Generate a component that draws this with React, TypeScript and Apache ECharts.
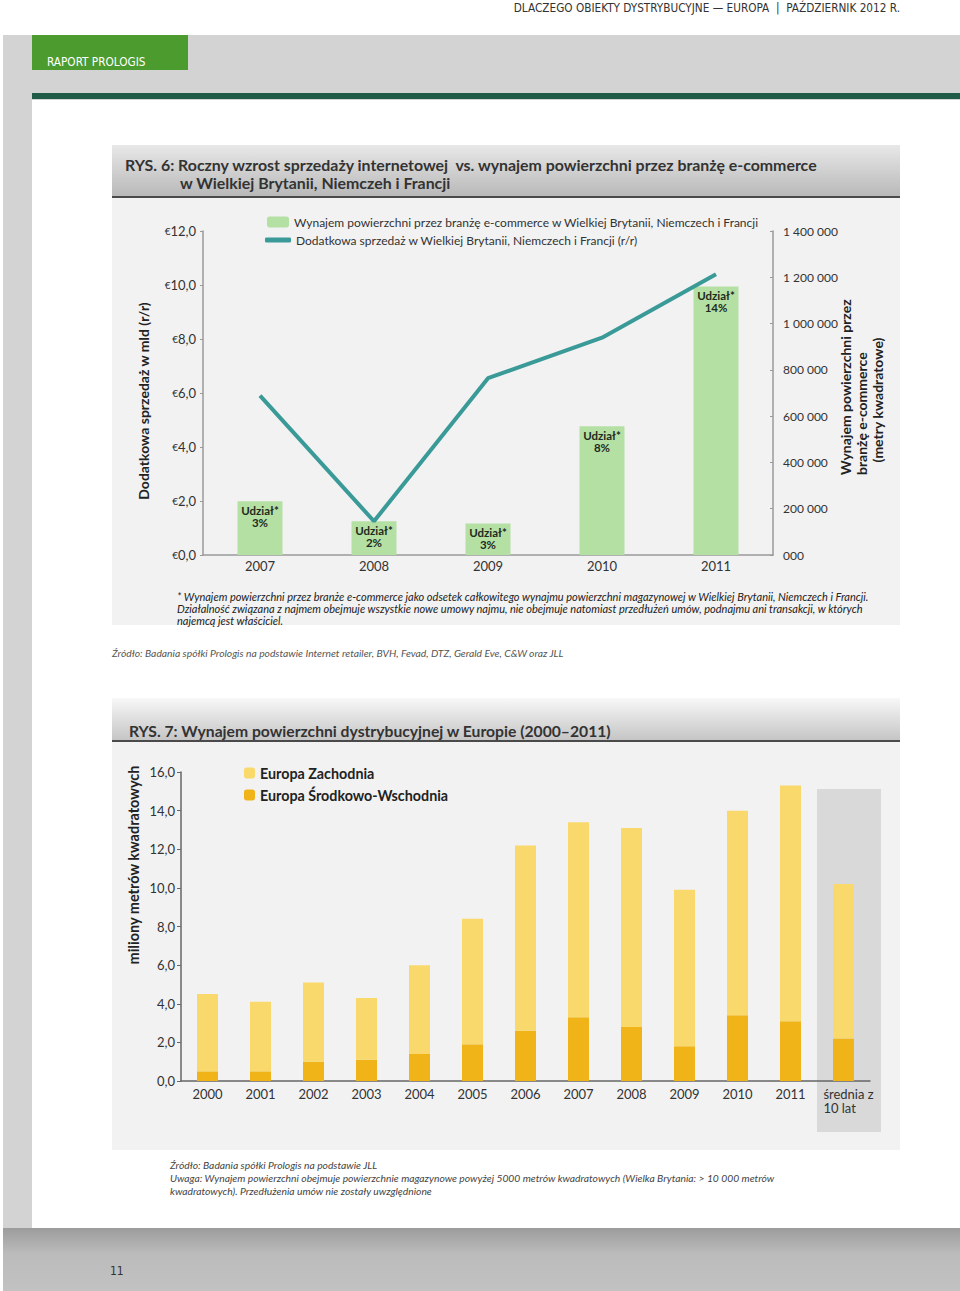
import React, { useEffect, useRef } from 'react';
import * as echarts from 'echarts';

// ---------- Data: RYS. 6 ----------
const years6 = ['2007', '2008', '2009', '2010', '2011'];
const rentalM2 = [232000, 146000, 136000, 556000, 1160000];
const sharePct = [3, 2, 3, 8, 14];
const salesBn = [5.9, 1.25, 6.55, 8.05, 10.4];

// ---------- Data: RYS. 7 ----------
const cats7 = ['2000', '2001', '2002', '2003', '2004', '2005', '2006', '2007', '2008', '2009', '2010', '2011', 'średnia z 10 lat'];
const ceeM = [0.5, 0.5, 1.0, 1.1, 1.4, 1.9, 2.6, 3.3, 2.8, 1.8, 3.4, 3.1, 2.2];
const westM = [4.0, 3.6, 4.1, 3.2, 4.6, 6.5, 9.6, 10.1, 10.3, 8.1, 10.6, 12.2, 8.0];

const NAME_BAR6 = 'Wynajem powierzchni przez branżę e-commerce w Wielkiej Brytanii, Niemczech i Francji';
const NAME_LINE6 = 'Dodatkowa sprzedaż w Wielkiej Brytanii, Niemczech i Francji (r/r)';
const NAME_WEST = 'Europa Zachodnia';
const NAME_CEE = 'Europa Środkowo-Wschodnia';

const FONT = 'Lato, "Open Sans", sans-serif';
const NARROW = '"DejaVu Sans Condensed", "Liberation Sans Narrow", sans-serif';

const comma1 = (v: number) => v.toFixed(1).replace('.', ',');
const spaced = (v: number) => (v === 0 ? '000' : String(v).replace(/\B(?=(\d{3})+(?!\d))/g, ' '));

export default function App() {
  const ref = useRef<HTMLDivElement>(null);

  useEffect(() => {
    document.body.style.margin = '0';
    if (!ref.current) return;
    const chart = echarts.init(ref.current, undefined, { renderer: 'svg' });

    const bg = (x: number, y: number, w: number, h: number, fill: any, z = -10) => ({
      type: 'rect', z, silent: true, shape: { x, y, width: w, height: h }, style: { fill },
    });
    const txt = (x: number, y: number, text: string, style: any = {}, extra: any = {}) => ({
      type: 'text', x, y, silent: true, z: 5,
      style: { text, fill: '#333', font: `12px ${FONT}`, textVerticalAlign: 'middle', verticalAlign: 'middle', ...style },
      ...extra,
    });
    const vgrad = (c0: string, c1: string) => new echarts.graphic.LinearGradient(0, 0, 0, 1, [
      { offset: 0, color: c0 }, { offset: 1, color: c1 },
    ]);
    const noteFont = `italic 11px ${FONT}`;

    const graphic: any[] = [
      // page frame
      bg(3, 35, 957, 65, '#d3d3d3', -20),
      bg(3, 35, 29, 1256, '#d3d3d3', -20),
      bg(32, 35, 156, 35, '#4b9b2f', -19),
      bg(32, 93, 928, 6, '#1e5c47', -19),
      bg(3, 1228, 957, 63, new echarts.graphic.LinearGradient(0, 0, 0, 1, [
        { offset: 0, color: '#9c9c9c' }, { offset: 0.4, color: '#bbbbbb' }, { offset: 1, color: '#c2c2c2' },
      ]), -19),
      txt(900, 8, 'DLACZEGO OBIEKTY DYSTRYBUCYJNE — EUROPA  |  PAŹDZIERNIK 2012 R.', { align: 'right', textAlign: 'right', font: `11.7px ${NARROW}`, fill: '#333' }),
      txt(47, 62, 'RAPORT PROLOGIS', { font: `11.7px ${NARROW}`, fill: '#ffffff' }),
      txt(110, 1271, '11', { font: `12px ${NARROW}`, fill: '#333' }),

      // RYS. 6 panel
      bg(112, 145, 788, 52, vgrad('#e8e8e8', '#b8b8b8')),
      bg(112, 196, 788, 2, '#4a4a4a', -9),
      bg(112, 198, 788, 427, '#f2f2f2'),
      txt(125, 164, 'RYS. 6: Roczny wzrost sprzedaży internetowej  vs. wynajem powierzchni przez branżę e-commerce', { font: `bold 15.9px ${FONT}`, fill: '#333' }),
      txt(180, 182, 'w Wielkiej Brytanii, Niemczeh i Francji', { font: `bold 15.9px ${FONT}`, fill: '#333' }),
      txt(143, 401, 'Dodatkowa sprzedaż w mld (r/r)', { font: `bold 14px ${FONT}`, fill: '#222', align: 'center', textAlign: 'center' }, { rotation: Math.PI / 2 }),
      txt(845, 475, 'Wynajem powierzchni przez', { font: `bold 14px ${FONT}`, fill: '#222', align: 'left', textAlign: 'left' }, { rotation: Math.PI / 2 }),
      txt(861, 475, 'branżę e-commerce', { font: `bold 14px ${FONT}`, fill: '#222', align: 'left', textAlign: 'left' }, { rotation: Math.PI / 2 }),
      txt(877, 400, '(metry kwadratowe)', { font: `bold 14px ${FONT}`, fill: '#222', align: 'center', textAlign: 'center' }, { rotation: Math.PI / 2 }),
      txt(177, 596, '* Wynajem powierzchni przez branże e-commerce jako odsetek całkowitego wynajmu powierzchni magazynowej w Wielkiej Brytanii, Niemczech i Francji.', { font: noteFont, fill: '#222' }),
      txt(177, 608, 'Działalność związana z najmem obejmuje wszystkie nowe umowy najmu, nie obejmuje natomiast przedłużeń umów, podnajmu ani transakcji, w których', { font: noteFont, fill: '#222' }),
      txt(177, 620, 'najemcą jest właściciel.', { font: noteFont, fill: '#222' }),
      txt(112, 653, 'Źródło: Badania spółki Prologis na podstawie Internet retailer, BVH, Fevad, DTZ, Gerald Eve, C&W oraz JLL', { font: `italic 10.3px ${FONT}`, fill: '#555' }),

      // RYS. 7 panel
      bg(112, 698, 788, 43, vgrad('#f8f8f8', '#c4c4c4')),
      bg(112, 740, 788, 2, '#4a4a4a', -9),
      bg(112, 742, 788, 408, '#f2f2f2'),
      bg(817, 789, 64, 343, '#d9d9d9', -8),
      txt(129, 731, 'RYS. 7: Wynajem powierzchni dystrybucyjnej w Europie (2000–2011)', { font: `bold 15.7px ${FONT}`, fill: '#333' }),
      txt(133, 865, 'miliony metrów kwadratowych', { font: `bold 14.5px ${FONT}`, fill: '#222', align: 'center', textAlign: 'center' }, { rotation: Math.PI / 2 }),
      txt(170, 1165, 'Źródło: Badania spółki Prologis na podstawie JLL', { font: `italic 10.3px ${FONT}`, fill: '#444' }),
      txt(170, 1178, 'Uwaga: Wynajem powierzchni obejmuje powierzchnie magazynowe powyżej 5000 metrów kwadratowych (Wielka Brytania: > 10 000 metrów', { font: `italic 10.3px ${FONT}`, fill: '#444' }),
      txt(170, 1191, 'kwadratowych). Przedłużenia umów nie zostały uwzględnione', { font: `italic 10.3px ${FONT}`, fill: '#444' }),
    ];

    const option: any = {
      animation: false,
      backgroundColor: '#ffffff',
      textStyle: { fontFamily: FONT },
      graphic,
      legend: [
        {
          left: 262, top: 211, itemWidth: 22, itemHeight: 11,
          data: [NAME_BAR6],
          textStyle: { fontSize: 12, color: '#333', fontFamily: FONT },
        },
        {
          left: 260, top: 229, itemWidth: 26, itemHeight: 5,
          data: [{ name: NAME_LINE6, icon: 'roundRect' }],
          textStyle: { fontSize: 12, color: '#333', fontFamily: FONT },
        },
        {
          orient: 'vertical', left: 239, top: 761, itemWidth: 11, itemHeight: 11, itemGap: 8,
          data: [NAME_WEST, NAME_CEE],
          textStyle: { fontSize: 14.3, fontWeight: 'bold', color: '#222', fontFamily: FONT },
        },
      ],
      grid: [
        { left: 203, top: 231, width: 570, height: 324 },
        { left: 181, top: 772, width: 689, height: 309 },
      ],
      xAxis: [
        {
          gridIndex: 0, type: 'category', data: years6,
          axisLine: { lineStyle: { color: '#9a9a9a', width: 1.5 } },
          axisTick: { length: 3, lineStyle: { color: '#aaa' } },
          axisLabel: { fontSize: 13, color: '#333', margin: 4 },
        },
        {
          gridIndex: 1, type: 'category', data: cats7,
          axisLine: { lineStyle: { color: '#666', width: 1.5 } },
          axisTick: { length: 4, lineStyle: { color: '#666' } },
          axisLabel: {
            fontSize: 13, color: '#333', margin: 6, interval: 0, lineHeight: 14,
            formatter: (v: string) => (v === cats7[cats7.length - 1] ? '{avg|średnia z}\n{avg|10 lat}' : v),
            rich: { avg: { fontSize: 13, color: '#333', align: 'left', lineHeight: 14, padding: [0, 0, 0, 10] } },
          },
        },
      ],
      yAxis: [
        {
          gridIndex: 0, type: 'value', min: 0, max: 12, interval: 2, position: 'left',
          splitLine: { show: false },
          axisLine: { show: true, lineStyle: { color: '#9a9a9a', width: 1.5 } },
          axisTick: { show: true, length: 3, lineStyle: { color: '#9a9a9a' } },
          axisLabel: {
            margin: 7,
            formatter: (v: number) => `{e|€}{n|${comma1(v)}}`,
            rich: { e: { fontSize: 10, color: '#333' }, n: { fontSize: 13, color: '#333' } },
          },
        },
        {
          gridIndex: 0, type: 'value', min: 0, max: 1400000, interval: 200000, position: 'right',
          splitLine: { show: false },
          axisLine: { show: true, lineStyle: { color: '#9a9a9a', width: 1.5 } },
          axisTick: { show: true, inside: true, length: 3, lineStyle: { color: '#9a9a9a' } },
          axisLabel: { margin: 10, fontSize: 12, color: '#333', formatter: spaced },
        },
        {
          gridIndex: 1, type: 'value', min: 0, max: 16, interval: 2,
          splitLine: { show: false },
          axisLine: { show: true, lineStyle: { color: '#666', width: 1.5 } },
          axisTick: { show: true, length: 4, lineStyle: { color: '#666' } },
          axisLabel: { margin: 6, fontSize: 13, color: '#333', formatter: comma1 },
        },
      ],
      series: [
        {
          name: NAME_BAR6, type: 'bar', xAxisIndex: 0, yAxisIndex: 1, data: rentalM2, barWidth: 45,
          itemStyle: { color: '#b5e0a4' },
          label: {
            show: true, position: 'insideTop', distance: 3,
            formatter: (p: any) => `Udział*\n${sharePct[p.dataIndex]}%`,
            fontSize: 11.5, fontWeight: 'bold', color: '#1d2b1d', lineHeight: 12, fontFamily: FONT,
          },
          z: 2,
        },
        {
          name: NAME_LINE6, type: 'line', xAxisIndex: 0, yAxisIndex: 0, data: salesBn,
          symbol: 'none', lineStyle: { color: '#3a9a97', width: 4 }, itemStyle: { color: '#3a9a97' },
          z: 3,
        },
        {
          name: NAME_CEE, type: 'bar', xAxisIndex: 1, yAxisIndex: 2, stack: 'eu', data: ceeM, barWidth: 21,
          itemStyle: { color: '#f0b418' },
        },
        {
          name: NAME_WEST, type: 'bar', xAxisIndex: 1, yAxisIndex: 2, stack: 'eu', data: westM, barWidth: 21,
          itemStyle: { color: '#f9d86c' },
        },
      ],
    };

    chart.setOption(option);
    return () => chart.dispose();
  }, []);

  return <div ref={ref} style={{ width: 960, height: 1291 }} />;
}
